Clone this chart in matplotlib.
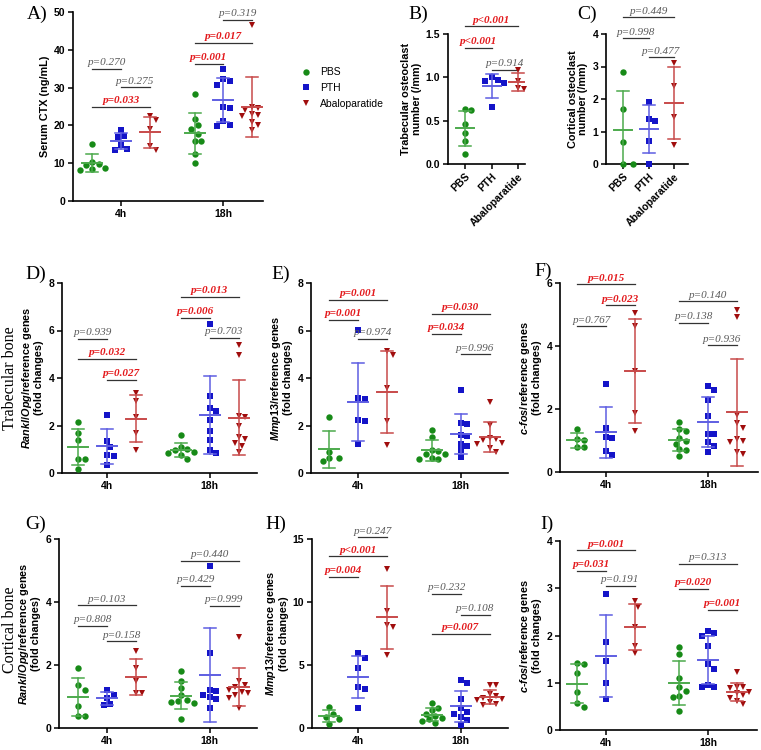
import numpy as np
import matplotlib
matplotlib.use('Agg')
import matplotlib.pyplot as plt
from matplotlib.lines import Line2D

plt.rcParams['font.family'] = ['Liberation Sans', 'DejaVu Sans']
plt.rcParams['mathtext.fontset'] = 'custom'
plt.rcParams['mathtext.it'] = 'Liberation Sans:italic:bold'
plt.rcParams['mathtext.rm'] = 'Liberation Sans:bold'
plt.rcParams['mathtext.bf'] = 'Liberation Sans:bold'

groups = ['PBS', 'PTH', 'Abaloparatide']
times = ['4h', '18h']

# A) serum CTX (ng/mL), lists in group order PBS, PTH, Abaloparatide
ctx_4h = [[15.0, 10.2, 9.8, 9.5, 8.8, 8.2, 8.5],
          [18.8, 17.2, 17.0, 14.8, 13.6, 13.8],
          [22.5, 21.5, 19.0, 14.5, 13.4]]
ctx_18h = [[28.4, 21.6, 20.0, 19.0, 17.6, 16.0, 15.8, 12.5, 10.0],
           [35.0, 32.2, 31.8, 30.8, 24.8, 24.6, 21.2, 20.0, 19.8],
           [46.5, 25.0, 24.5, 24.0, 23.0, 22.8, 22.5, 21.0, 20.0, 18.8]]
ctx_pvals = [(0, 0, 1, 35.0, 'p=0.270'), (0, 1, 2, 30.1, 'p=0.275'), (0, 0, 2, 25.0, 'p=0.033'),
             (1, 0, 1, 36.3, 'p=0.001'), (1, 0, 2, 41.8, 'p=0.017'), (1, 1, 2, 48.0, 'p=0.319')]

# B) trabecular osteoclast number (/mm)
trab_oc = [[0.64, 0.62, 0.46, 0.36, 0.26, 0.12],
           [1.00, 0.97, 0.96, 0.93, 0.66],
           [1.08, 0.96, 0.88, 0.86]]
trab_oc_pvals = [(0, 2, 1.59, 'p<0.001'), (0, 1, 1.34, 'p<0.001'), (1, 2, 1.09, 'p=0.914')]

# C) cortical osteoclast number (/mm)
cort_oc = [[2.82, 1.70, 0.68, 0.0, 0.0],
           [1.90, 1.40, 1.33, 0.72, 0.0],
           [3.12, 2.40, 1.45, 0.57]]
cort_oc_pvals = [(0, 2, 4.51, 'p=0.449'), (0, 1, 3.87, 'p=0.998'), (1, 2, 3.28, 'p=0.477')]

# D) trabecular Rankl/Opg
trab_rankl_4h = [[2.15, 1.70, 1.38, 0.58, 0.57, 0.18],
                 [2.45, 1.36, 1.10, 0.75, 0.72, 0.35],
                 [3.38, 3.05, 2.35, 1.70, 0.95]]
trab_rankl_18h = [[1.62, 1.10, 1.00, 0.95, 0.90, 0.85, 0.75, 0.57],
                  [6.28, 3.25, 2.72, 2.62, 2.22, 1.78, 1.40, 0.95, 0.85],
                  [5.40, 4.95, 2.40, 2.35, 1.98, 1.50, 1.42, 1.25, 1.12, 0.88]]
trab_rankl_pvals = [(0, 0, 1, 5.66, 'p=0.939'), (0, 0, 2, 4.81, 'p=0.032'), (0, 1, 2, 3.93, 'p=0.027'),
                    (1, 0, 2, 7.41, 'p=0.013'), (1, 0, 1, 6.54, 'p=0.006'), (1, 1, 2, 5.70, 'p=0.703')]

# E) trabecular Mmp13
trab_mmp13_4h = [[2.35, 0.90, 0.62, 0.62, 0.50],
                 [6.02, 3.15, 3.12, 2.22, 2.20, 1.22],
                 [5.12, 4.95, 3.58, 2.18, 1.18]]
trab_mmp13_18h = [[1.82, 1.50, 0.95, 0.92, 0.80, 0.78, 0.62, 0.60, 0.58],
                  [3.48, 2.10, 2.05, 1.62, 1.55, 1.22, 1.15, 0.95, 0.68],
                  [3.00, 2.02, 1.48, 1.45, 1.40, 1.25, 1.22, 1.05, 0.88]]
trab_mmp13_pvals = [(0, 0, 2, 7.30, 'p=0.001'), (0, 0, 1, 6.46, 'p=0.001'), (0, 1, 2, 5.66, 'p=0.974'),
                    (1, 0, 2, 6.71, 'p=0.030'), (1, 0, 1, 5.87, 'p=0.034'), (1, 1, 2, 5.00, 'p=0.996')]

# F) trabecular c-fos
trab_cfos_4h = [[1.38, 1.05, 1.02, 0.80, 0.78],
                [2.78, 1.40, 1.10, 1.08, 0.66, 0.55],
                [5.05, 4.62, 3.20, 1.88, 1.30]]
trab_cfos_18h = [[1.58, 1.35, 1.30, 1.08, 1.00, 0.90, 0.72, 0.70, 0.50],
                 [2.72, 2.60, 2.30, 1.78, 1.22, 1.20, 0.95, 0.82, 0.65],
                 [5.15, 4.92, 1.82, 1.55, 1.40, 1.05, 0.98, 0.95, 0.62, 0.58]]
trab_cfos_pvals = [(0, 0, 2, 5.96, 'p=0.015'), (0, 1, 2, 5.29, 'p=0.023'), (0, 0, 1, 4.62, 'p=0.767'),
                   (1, 0, 2, 5.42, 'p=0.140'), (1, 0, 1, 4.74, 'p=0.138'), (1, 1, 2, 4.02, 'p=0.936')]

# G) cortical Rankl/Opg
cort_rankl_4h = [[1.90, 1.35, 1.22, 0.70, 0.38, 0.38],
                 [1.22, 1.05, 0.95, 0.75, 0.72],
                 [2.45, 1.90, 1.48, 1.12, 1.10]]
cort_rankl_18h = [[1.80, 1.50, 1.28, 1.05, 0.88, 0.85, 0.82, 0.80, 0.30],
                  [5.15, 2.38, 1.20, 1.18, 1.05, 0.98, 0.92, 0.65],
                  [2.88, 1.50, 1.38, 1.30, 1.22, 1.15, 1.10, 1.05, 0.95, 0.62]]
cort_rankl_pvals = [(0, 0, 2, 3.89, 'p=0.103'), (0, 0, 1, 3.24, 'p=0.808'), (0, 1, 2, 2.75, 'p=0.158'),
                    (1, 0, 2, 5.31, 'p=0.440'), (1, 0, 1, 4.51, 'p=0.429'), (1, 1, 2, 3.88, 'p=0.999')]

# H) cortical Mmp13
cort_mmp13_4h = [[1.65, 1.15, 0.90, 0.75, 0.35],
                 [5.95, 5.55, 4.75, 3.25, 3.12, 1.60],
                 [12.6, 9.30, 8.15, 8.00, 5.80]]
cort_mmp13_18h = [[1.95, 1.60, 1.40, 1.15, 0.95, 0.80, 0.70, 0.55, 0.42],
                  [3.80, 3.55, 2.30, 1.55, 1.30, 1.15, 0.90, 0.60, 0.25],
                  [3.45, 3.40, 2.70, 2.55, 2.40, 2.30, 2.20, 2.10, 1.90, 1.85]]
cort_mmp13_pvals = [(0, 1, 2, 15.13, 'p=0.247'), (0, 0, 2, 13.62, 'p<0.001'), (0, 0, 1, 11.98, 'p=0.004'),
                    (1, 0, 1, 10.66, 'p=0.232'), (1, 1, 2, 8.99, 'p=0.108'), (1, 0, 2, 7.46, 'p=0.007')]

# I) cortical c-fos
cort_cfos_4h = [[1.42, 1.40, 1.20, 0.80, 0.58, 0.48],
                [2.88, 1.87, 1.45, 1.00, 0.65],
                [2.72, 2.60, 2.18, 1.78, 1.62]]
cort_cfos_18h = [[1.75, 1.60, 1.10, 0.92, 0.82, 0.72, 0.70, 0.40],
                 [2.10, 2.05, 2.00, 1.78, 1.40, 1.30, 0.95, 0.92, 0.90],
                 [1.22, 0.92, 0.90, 0.88, 0.80, 0.78, 0.75, 0.68, 0.62, 0.55]]
cort_cfos_pvals = [(0, 0, 2, 3.80, 'p=0.001'), (0, 0, 1, 3.37, 'p=0.031'), (0, 1, 2, 3.05, 'p=0.191'),
                   (1, 0, 2, 3.51, 'p=0.313'), (1, 0, 1, 2.99, 'p=0.020'), (1, 1, 2, 2.55, 'p=0.001')]

COLORS = ['#178a17', '#1414c8', '#a00d0d']
BAR_COLORS = ['#4caa4c', '#5e5ee2', '#c84a4a']
MARKERS = ['o', 's', 'v']
W, H = 761, 750
OFFSET = 0.28


def px_rect(l, t, r, b):
    return [l / W, 1 - b / H, (r - l) / W, (b - t) / H]


def px_per_unit(ax):
    p0 = ax.transData.transform((0, 0))
    p1 = ax.transData.transform((1, 0))
    return p1[0] - p0[0]


def swarm_x(ax, vals, cx, d=6.4):
    # spread overlapping points sideways, like a scatter dot plot
    pts = ax.transData.transform(np.column_stack([np.full(len(vals), cx), vals]))
    order = np.argsort(-vals, kind='stable')
    placed = []
    xs = np.empty(len(vals))
    for i in order:
        x0, y0 = pts[i]
        for k in range(60):
            dx = ((k + 1) // 2) * (d / 2) * (1 if k % 2 else -1)
            if all(np.hypot(x0 + dx - px, y0 - py) >= d for px, py in placed):
                break
        placed.append((x0 + dx, y0))
        xs[i] = ax.transData.inverted().transform((x0 + dx, y0))[0]
    return xs


def draw_group(ax, vals, cx, g, mean_px=10, cap_px=6):
    vals = np.asarray(vals, float)
    xs = swarm_x(ax, vals, cx)
    ax.plot(xs, vals, ls='none', marker=MARKERS[g], color=COLORS[g], ms=4.6, mew=0,
            zorder=3, clip_on=False)
    m = vals.mean()
    sd = vals.std(ddof=1)
    ppu = px_per_unit(ax)
    w, c = mean_px / ppu, cap_px / ppu
    col = BAR_COLORS[g]
    ax.plot([cx, cx], [m - sd, m + sd], color=col, lw=1.1, zorder=4)
    ax.plot([cx - c, cx + c], [m + sd, m + sd], color=col, lw=1.1, zorder=4)
    ax.plot([cx - c, cx + c], [m - sd, m - sd], color=col, lw=1.1, zorder=4)
    ax.plot([cx - w, cx + w], [m, m], color=col, lw=1.4, zorder=4)


def draw_pval(ax, x1, x2, y, label):
    if '<' in label:
        sig = True
    else:
        sig = float(label.split('=')[1]) < 0.05
    ax.plot([x1, x2], [y, y], color='#333333', lw=0.9, clip_on=False, zorder=2)
    ax.annotate(label, ((x1 + x2) / 2, y), xytext=(0, 1.2), textcoords='offset points',
                ha='center', va='bottom', annotation_clip=False,
                family='Liberation Serif', style='italic', fontsize=8,
                weight='bold' if sig else 'normal',
                color='#e3191c' if sig else '#5a5a5a')


def style_axes(ax, ylim, yticks, ylabel):
    ax.set_ylim(*ylim)
    ax.set_yticks(yticks)
    for s in ['top', 'right']:
        ax.spines[s].set_visible(False)
    for s in ['left', 'bottom']:
        ax.spines[s].set_linewidth(1.2)
    ax.tick_params(direction='out', length=3.5, width=1.1, labelsize=7.5, pad=2)
    ax.set_ylabel(ylabel, fontsize=7.8, fontweight='bold', labelpad=3, linespacing=1.05)
    for lbl in ax.get_yticklabels() + ax.get_xticklabels():
        lbl.set_fontweight('bold')


def time_panel(fig, rect, xlim, data_4h, data_18h, pvals, ylim, yticks, ylabel):
    ax = fig.add_axes(px_rect(*rect))
    ax.set_xlim(*xlim)
    ax.set_ylim(*ylim)
    ax.set_xticks([0, 1])
    ax.set_xticklabels(times)
    for t, data in enumerate([data_4h, data_18h]):
        for g in range(3):
            draw_group(ax, data[g], t + (g - 1) * OFFSET, g)
    for t, g1, g2, y, label in pvals:
        draw_pval(ax, t + (g1 - 1) * OFFSET, t + (g2 - 1) * OFFSET, y, label)
    style_axes(ax, ylim, yticks, ylabel)
    return ax


def cat_panel(fig, rect, xlim, data, pvals, ylim, yticks, ylabel):
    ax = fig.add_axes(px_rect(*rect))
    ax.set_xlim(*xlim)
    ax.set_ylim(*ylim)
    ax.set_xticks([0, 1, 2])
    ax.set_xticklabels(groups, rotation=45, ha='right', rotation_mode='anchor')
    for g in range(3):
        draw_group(ax, data[g], g, g, mean_px=9, cap_px=6)
    for g1, g2, y, label in pvals:
        draw_pval(ax, g1, g2, y, label)
    style_axes(ax, ylim, yticks, ylabel)
    return ax


fig = plt.figure(figsize=(W / 100, H / 100), dpi=100)

rankl = '$\\mathit{Rankl/Opg}$/reference genes\n(fold changes)'
mmp13 = '$\\mathit{Mmp13}$/reference genes\n(fold changes)'
cfos = '$\\mathit{c}$-$\\mathit{fos}$/reference genes\n(fold changes)'

time_panel(fig, (73, 12, 263, 201), (-0.47, 1.39), ctx_4h, ctx_18h, ctx_pvals,
           (0, 50), [0, 10, 20, 30, 40, 50], 'Serum CTX (ng/mL)')
axb = cat_panel(fig, (448, 34, 525, 164), (-0.64, 2.26), trab_oc, trab_oc_pvals,
                (0, 1.5), [0.0, 0.5, 1.0, 1.5], 'Trabecular osteoclast\nnumber (/mm)')
axb.set_yticklabels(['0.0', '0.5', '1.0', '1.5'], fontweight='bold')
cat_panel(fig, (606, 34, 688, 164), (-0.67, 2.55), cort_oc, cort_oc_pvals,
          (0, 4), [0, 1, 2, 3, 4], 'Cortical osteoclast\nnumber (/mm)')

time_panel(fig, (62, 283, 257, 473), (-0.44, 1.46), trab_rankl_4h, trab_rankl_18h, trab_rankl_pvals,
           (0, 8), [0, 2, 4, 6, 8], rankl)
time_panel(fig, (311, 283, 508, 473), (-0.46, 1.46), trab_mmp13_4h, trab_mmp13_18h, trab_mmp13_pvals,
           (0, 8), [0, 2, 4, 6, 8], mmp13)
time_panel(fig, (560, 283, 758, 472), (-0.45, 1.49), trab_cfos_4h, trab_cfos_18h, trab_cfos_pvals,
           (0, 6), [0, 2, 4, 6], cfos)

time_panel(fig, (59, 539, 257, 728), (-0.47, 1.46), cort_rankl_4h, cort_rankl_18h, cort_rankl_pvals,
           (0, 6), [0, 2, 4, 6], rankl)
time_panel(fig, (312, 539, 508, 728), (-0.45, 1.46), cort_mmp13_4h, cort_mmp13_18h, cort_mmp13_pvals,
           (0, 15), [0, 5, 10, 15], mmp13)
time_panel(fig, (560, 541, 757, 730), (-0.45, 1.48), cort_cfos_4h, cort_cfos_18h, cort_cfos_pvals,
           (0, 4), [0, 1, 2, 3, 4], cfos)

# panel letters and row titles
letters = [('A)', 27, 14), ('B)', 408, 14), ('C)', 577, 14), ('D)', 25, 274), ('E)', 271, 274),
           ('F)', 534, 271), ('G)', 25, 524), ('H)', 265, 524), ('I)', 540, 524)]
for txt, x, y in letters:
    fig.text(x / W, 1 - y / H, txt, family='Liberation Serif', fontsize=14, va='center', ha='left')
fig.text(10 / W, 1 - 378 / H, 'Trabecular bone', family='Liberation Serif', fontsize=11.5,
         rotation=90, va='center', ha='center')
fig.text(10 / W, 1 - 630 / H, 'Cortical bone', family='Liberation Serif', fontsize=11.5,
         rotation=90, va='center', ha='center')

handles = [Line2D([], [], ls='none', marker=MARKERS[g], color=COLORS[g], ms=4.6, mew=0)
           for g in range(3)]
fig.legend(handles, groups, loc='upper left', bbox_to_anchor=(296 / W, 1 - 62 / H), frameon=False,
           fontsize=7.5, handlelength=1.0, handletextpad=0.8, labelspacing=0.55, borderpad=0)

fig.savefig('out.png', dpi=100)
